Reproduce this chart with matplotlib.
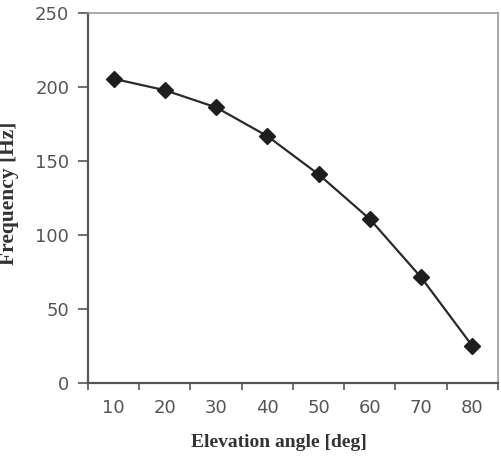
import numpy as np
import matplotlib.pyplot as plt

# angle categories and measured frequency
angles = ['10', '20', '30', '40', '50', '60', '70', '80']
freq = [205.5, 197.8, 186.2, 166.8, 141.0, 110.8, 71.5, 25.2]

fig = plt.figure(figsize=(5.01, 4.58), dpi=100)
ax = fig.add_axes([0.1756, 0.163, 0.8184, 0.809])

x = np.arange(len(angles))
ax.plot(x, freq, color='#2a2a2a', lw=1.6, marker='D', ms=8,
        markerfacecolor='#1e1e1e', markeredgecolor='#1e1e1e')

ax.set_xlim(-0.5, len(angles) - 0.5)
ax.set_ylim(0, 250)
ax.set_yticks(range(0, 251, 50))

# category axis: tick marks between categories, labels at centres
ax.set_xticks(np.arange(-0.5, len(angles)))
ax.set_xticklabels([])
ax.set_xticks(x, minor=True)
ax.set_xticklabels(angles, minor=True)
ax.tick_params(axis='x', which='major', direction='out', length=5,
               color='#555555', width=1.2)
ax.tick_params(axis='x', which='minor', length=0, pad=11,
               labelsize=13, labelcolor='#555555')
ax.tick_params(axis='y', direction='out', length=7, color='#555555',
               width=1.2, labelsize=13, labelcolor='#555555', pad=6.5)

for tl in ax.get_xticklabels(minor=True) + ax.get_yticklabels():
    tl.set_family('DejaVu Sans')

for s in ['left', 'bottom']:
    ax.spines[s].set_color('#555555')
    ax.spines[s].set_linewidth(1.6)
for s in ['top', 'right']:
    ax.spines[s].set_color('#999999')
    ax.spines[s].set_linewidth(1.2)

fig.text(0.557, 0.0328, 'Elevation angle [deg]', family='Liberation Serif',
         fontweight='bold', fontsize=14, color='#333333',
         ha='center', va='center')
fig.text(0.018, 0.5786, 'Frequency [Hz]', family='Liberation Serif',
         fontweight='bold', fontsize=15.5, color='#333333',
         ha='center', va='center', rotation=90)

fig.savefig('out.png', dpi=100)
